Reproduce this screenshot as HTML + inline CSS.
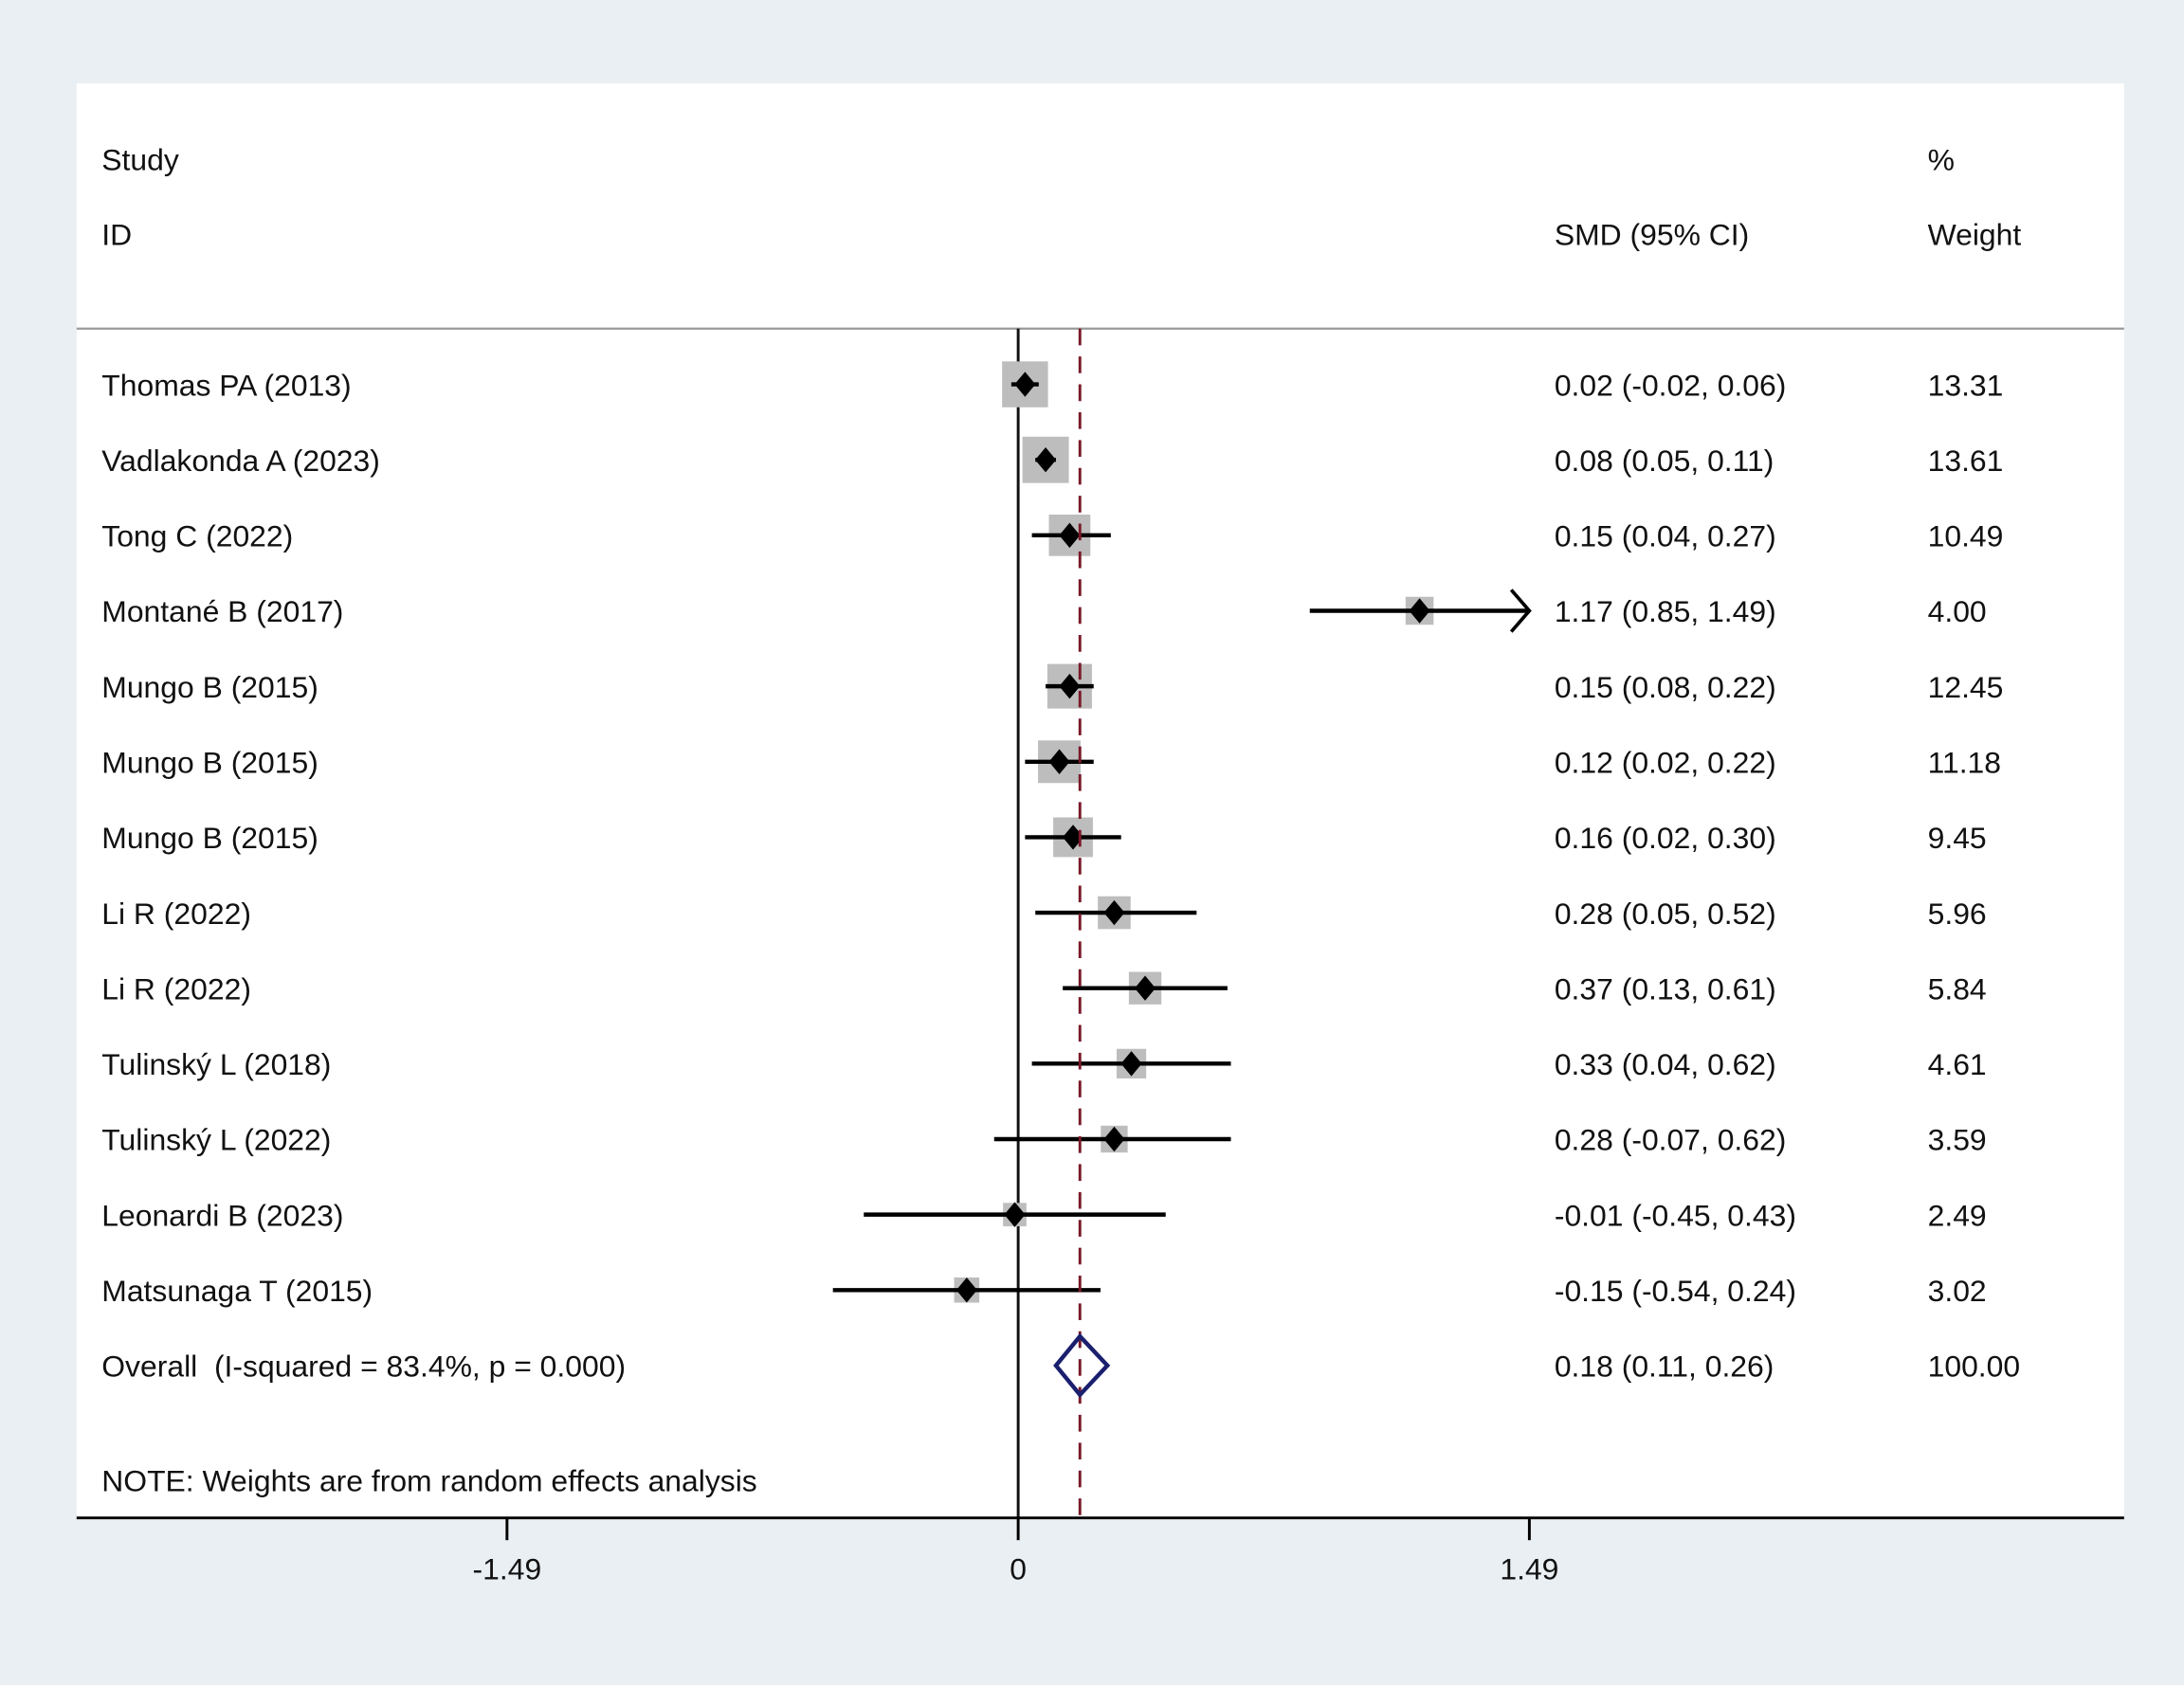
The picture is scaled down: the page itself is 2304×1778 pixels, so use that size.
<!DOCTYPE html>
<html><head><meta charset="utf-8"><style>
html,body{margin:0;padding:0;background:#e9eff3;}
svg{display:block;}
text{font-family:"Liberation Sans",Arial,sans-serif;font-size:21.7px;fill:#111;white-space:pre;}
</style></head><body>
<svg id="chart" width="2304" height="1778" viewBox="0 0 1568 1210" preserveAspectRatio="none" xmlns="http://www.w3.org/2000/svg" xml:space="preserve">
<rect x="0" y="0" width="1568" height="1210" fill="#e9eff3"/>
<rect x="55" y="60" width="1470" height="1030" fill="#ffffff"/>
<text x="73" y="122">Study</text>
<text x="73" y="176">ID</text>
<text x="1116" y="176">SMD (95% CI)</text>
<text x="1384" y="122">%</text>
<text x="1384" y="176">Weight</text>
<line x1="55" y1="236" x2="1525" y2="236" stroke="#999" stroke-width="1.5"/>
<g id="rows"></g>
<text x="73" y="1071">NOTE: Weights are from random effects analysis</text>
<g id="axis"></g>
</svg>
<script>
const studies=["Thomas PA (2013)","Vadlakonda A (2023)","Tong C (2022)","Montané B (2017)","Mungo B (2015)","Mungo B (2015)","Mungo B (2015)","Li R (2022)","Li R (2022)","Tulinský L (2018)","Tulinský L (2022)","Leonardi B (2023)","Matsunaga T (2015)"];
const smd=[0.02,0.08,0.15,1.17,0.15,0.12,0.16,0.28,0.37,0.33,0.28,-0.01,-0.15];
const lower=[-0.02,0.05,0.04,0.85,0.08,0.02,0.02,0.05,0.13,0.04,-0.07,-0.45,-0.54];
const upper=[0.06,0.11,0.27,1.49,0.22,0.22,0.30,0.52,0.61,0.62,0.62,0.43,0.24];
const ciLabels=["0.02 (-0.02, 0.06)","0.08 (0.05, 0.11)","0.15 (0.04, 0.27)","1.17 (0.85, 1.49)","0.15 (0.08, 0.22)","0.12 (0.02, 0.22)","0.16 (0.02, 0.30)","0.28 (0.05, 0.52)","0.37 (0.13, 0.61)","0.33 (0.04, 0.62)","0.28 (-0.07, 0.62)","-0.01 (-0.45, 0.43)","-0.15 (-0.54, 0.24)"];
const weights=[13.31,13.61,10.49,4.00,12.45,11.18,9.45,5.96,5.84,4.61,3.59,2.49,3.02];
const overall=[0.18,0.11,0.26];
const overallLabel="0.18 (0.11, 0.26)";
const overallText="Overall  (I-squared = 83.4%, p = 0.000)";
const ticks=[-1.49,0,1.49];
const tickLabels=["-1.49","0","1.49"];
const xMin=-1.49,xMax=1.49;

const NS="http://www.w3.org/2000/svg";
const X=v=>731+(v-0)*(1098-731)/1.49;
const Y=i=>276+i*54.2;
function mk(tag,attrs,parent){const e=document.createElementNS(NS,tag);for(const k in attrs)e.setAttribute(k,attrs[k]);parent.appendChild(e);return e;}
const rows=document.getElementById('rows');
let l0=mk('line',{x1:X(0),y1:236,x2:X(0),y2:1090,stroke:'#111','stroke-width':2},rows);


studies.forEach((s,i)=>{
  const y=Y(i);
  const g=mk('g',{},rows);
  
  
  let t=mk('text',{x:73,y:y+8},g);t.textContent=s;
  
  
  const side=4.5+7.8*Math.sqrt(weights[i]);
  let b=mk('rect',{x:X(smd[i])-side/2,y:y-side/2,width:side,height:side,fill:'#bdbdbd'},g);
  
  
  const lo=Math.max(lower[i],xMin),hi=Math.min(upper[i],xMax);
  let ln=mk('line',{x1:X(lo),y1:y,x2:X(hi),y2:y,stroke:'#000','stroke-width':3},g);
  
  
  if(upper[i]>=xMax){
    let a=mk('polyline',{points:`${X(xMax)-13},${y-15} ${X(xMax)},${y} ${X(xMax)-13},${y+15}`,fill:'none',stroke:'#000','stroke-width':2.5},g);
    
    
  }
  const cx=X(smd[i]);
  let d=mk('polygon',{points:`${cx},${y-9} ${cx+7.5},${y} ${cx},${y+9} ${cx-7.5},${y}`,fill:'#000'},g);
  
  
  let c=mk('text',{x:1116,y:y+8},g);c.textContent=ciLabels[i];
  
  
  let w=mk('text',{x:1384,y:y+8},g);w.textContent=weights[i].toFixed(2);
  
  
});
const oy=Y(studies.length);
let dl=mk('line',{x1:X(overall[0]),y1:236,x2:X(overall[0]),y2:1090,stroke:'#7a1a2a','stroke-width':2,'stroke-dasharray':'12 8'},rows);


let od=mk('polygon',{points:`${X(overall[1])},${oy} ${X(overall[0])},${oy-21} ${X(overall[2])},${oy} ${X(overall[0])},${oy+21}`,fill:'none',stroke:'#1a1f6e','stroke-width':3},rows);


let ot=mk('text',{x:73,y:oy+8},rows);ot.textContent=overallText;


let oc=mk('text',{x:1116,y:oy+8},rows);oc.textContent=overallLabel;


let ow=mk('text',{x:1384,y:oy+8},rows);ow.textContent="100.00";


const ax=document.getElementById('axis');
let al=mk('line',{x1:55,y1:1090,x2:1525,y2:1090,stroke:'#000','stroke-width':2},ax);


ticks.forEach((v,i)=>{
  let tk=mk('line',{x1:X(v),y1:1090,x2:X(v),y2:1106,stroke:'#000','stroke-width':2},ax);
  
  
  let tl=mk('text',{x:X(v),y:1134,'text-anchor':'middle'},ax);tl.textContent=tickLabels[i];
  
  
});
</script>
</body></html>
